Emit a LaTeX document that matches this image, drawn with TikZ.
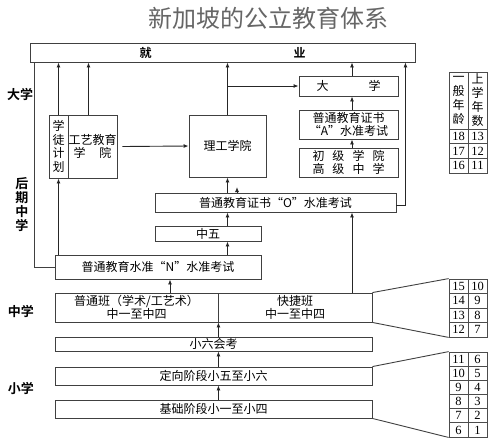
\documentclass[tikz,border=0pt]{standalone}
\usepackage{fontspec}
\setmainfont{Noto Sans CJK SC}[BoldFont={Noto Sans CJK SC Bold}]
\newfontfamily\numfont{Liberation Serif}
\usetikzlibrary{arrows.meta}

\tikzset{
  box/.style={draw=black!75, line width=0.9pt, inner sep=0pt, align=center,
    font=\fontsize{12}{13.5}\selectfont},
  arr/.style={draw=black!85, line width=0.9pt, -{Latex[length=5pt,width=4pt]}},
  lnk/.style={draw=black!75, line width=0.9pt},
  side/.style={font=\fontsize{13}{14}\selectfont\bfseries, align=center},
  cell/.style={draw=black!70, line width=0.8pt, inner sep=0pt, minimum width=19pt,
    font=\numfont\fontsize{12.5}{12.5}\selectfont},
  headcell/.style={cell, minimum height=57pt, align=center,
    font=\fontsize{12}{14}\selectfont}
}

\begin{document}
\begin{tikzpicture}[x=1pt,y=-1pt]
  \useasboundingbox (0,0) rectangle (500,445);

  \node[font=\fontsize{24}{24}\selectfont, text=black!60] (title) at (268,18) {新加坡的公立教育体系};

  \begin{scope}[every node/.style={box}]
    \node[minimum width=385pt, minimum height=19pt, font=\fontsize{12}{13.5}\selectfont\bfseries] (jiuye) at (222.5,52.5) {就\hspace{142pt}业};
    \node[minimum width=19pt, minimum height=63pt] (xt) at (58.5,146.5) {学\\徒\\计\\划};
    \node[minimum width=49pt, minimum height=63pt] (gy) at (92.5,146.5) {工艺教育\\学\hspace{14pt}院};
    \node[minimum width=77pt, minimum height=62pt] (lg) at (227.5,146) {理工学院};
    \node[minimum width=99pt, minimum height=20pt] (dx) at (348.5,86) {大\hspace{40pt}学};
    \node[minimum width=99pt, minimum height=29pt] (al) at (348.5,124.5) {普通教育证书\\“A”水准考试};
    \node[minimum width=99pt, minimum height=29pt] (jc) at (348.5,162.5) {初\hspace{8pt}级\hspace{8pt}学\hspace{8pt}院\\高\hspace{8pt}级\hspace{8pt}中\hspace{8pt}学};
    \node[minimum width=241pt, minimum height=19pt] (ol) at (275.5,202.5) {普通教育证书“O”水准考试};
    \node[minimum width=106pt, minimum height=15pt] (z5) at (208,233.5) {中五};
    \node[minimum width=206pt, minimum height=24pt] (nl) at (158,267) {普通教育水准“N”水准考试};
    \node[minimum width=163pt, minimum height=29pt] (pt) at (136.5,307.5) {普通班（学术/工艺术）\\中一至中四};
    \node[minimum width=154pt, minimum height=29pt] (kj) at (295,307.5) {快捷班\\中一至中四};
    \node[minimum width=317pt, minimum height=14pt] (psle) at (213.5,344) {小六会考};
    \node[minimum width=317pt, minimum height=18pt] (d56) at (213.5,376) {定向阶段小五至小六};
    \node[minimum width=317pt, minimum height=18pt] (jc14) at (213.5,409) {基础阶段小一至小四};
  \end{scope}

  % stage labels
  \node[side] (lbdx) at (20,94) {大学};
  \node[side] (lbhq) at (22,205) {后\\期\\中\\学};
  \node[side] (lbzx) at (21,311) {中学};
  \node[side] (lbxx) at (21,388) {小学};

  % age tables
  \node[headcell] (ha) at (458.5,100.5) {一\\般\\年\\龄};
  \node[headcell] (hb) at (477.5,100.5) {上\\学\\年\\数};
  \foreach \a/\b [count=\i] in {18/13,17/12,16/11} {
    \node[cell, minimum height=14.67pt] (ua\i) at (458.5,{129+14.67*\i-7.33}) {\a};
    \node[cell, minimum height=14.67pt] (ub\i) at (477.5,{129+14.67*\i-7.33}) {\b};
  }
  \foreach \a/\b [count=\i] in {15/10,14/9,13/8,12/7} {
    \node[cell, minimum height=14.5pt] (va\i) at (458.5,{279+14.5*\i-7.25}) {\a};
    \node[cell, minimum height=14.5pt] (vb\i) at (477.5,{279+14.5*\i-7.25}) {\b};
  }
  \foreach \a/\b [count=\i] in {11/6,10/5,9/4,8/3,7/2,6/1} {
    \node[cell, minimum height=14.17pt] (wa\i) at (458.5,{352+14.17*\i-7.08}) {\a};
    \node[cell, minimum height=14.17pt] (wb\i) at (477.5,{352+14.17*\i-7.08}) {\b};
  }

  % connectors
  \draw[lnk] (nl.west) -| ([xshift=5pt]jiuye.south west);
  \draw[arr] (xt.north) -- (xt.north |- jiuye.south);
  \draw[arr] ([xshift=-4pt]gy.north) -- ([xshift=-4pt]gy.north |- jiuye.south);
  \draw[arr] (xt.south |- nl.north) -- (xt.south);
  \draw[arr] ([xshift=5pt]gy.east) -- (lg.west);
  \draw[arr] (lg.north) -- (lg.north |- jiuye.south);
  \draw[arr] (lg.north |- dx.west) -- (dx.west);
  \draw[arr] ([xshift=3.5pt]dx.north) -- ([xshift=3.5pt]dx.north |- jiuye.south);
  \draw[arr] ([xshift=3.5pt]al.north) -- ([xshift=3.5pt]dx.south);
  \draw[arr] ([xshift=3.5pt]jc.north) -- ([xshift=3.5pt]al.south);
  \draw[arr] (lg.south |- ol.north) -- (lg.south);
  \coordinate (stub) at (237,187);
  \draw[arr] (stub |- ol.north) -- (stub);
  \draw[arr] ([yshift=-3pt]ol.east) -| ([xshift=-10pt]jiuye.south east);
  \draw[arr] (lg.south |- z5.north) -- (lg.south |- ol.south);
  \draw[arr] (lg.south |- nl.north) -- (lg.south |- z5.south);
  \draw[arr] ([xshift=12pt]nl.south |- pt.north) -- ([xshift=12pt]nl.south);
  \draw[arr] ([xshift=3.5pt]dx.north |- kj.north) -- ([xshift=3.5pt]dx.north |- ol.south);
  \draw[arr] (pt.east |- psle.north) -- (pt.south east);
  \draw[arr] (pt.east |- d56.north) -- (pt.east |- psle.south);
  \draw[arr] (pt.east |- jc14.north) -- (pt.east |- d56.south);

  % links to the age tables
  \draw[lnk] (kj.north east) -- (va1.north west);
  \draw[lnk] (kj.south east) -- (va4.south west);
  \draw[lnk] (d56.north east) -- (wa1.north west);
  \draw[lnk] (jc14.south east) -- (wa6.south west);

\end{tikzpicture}
\end{document}
